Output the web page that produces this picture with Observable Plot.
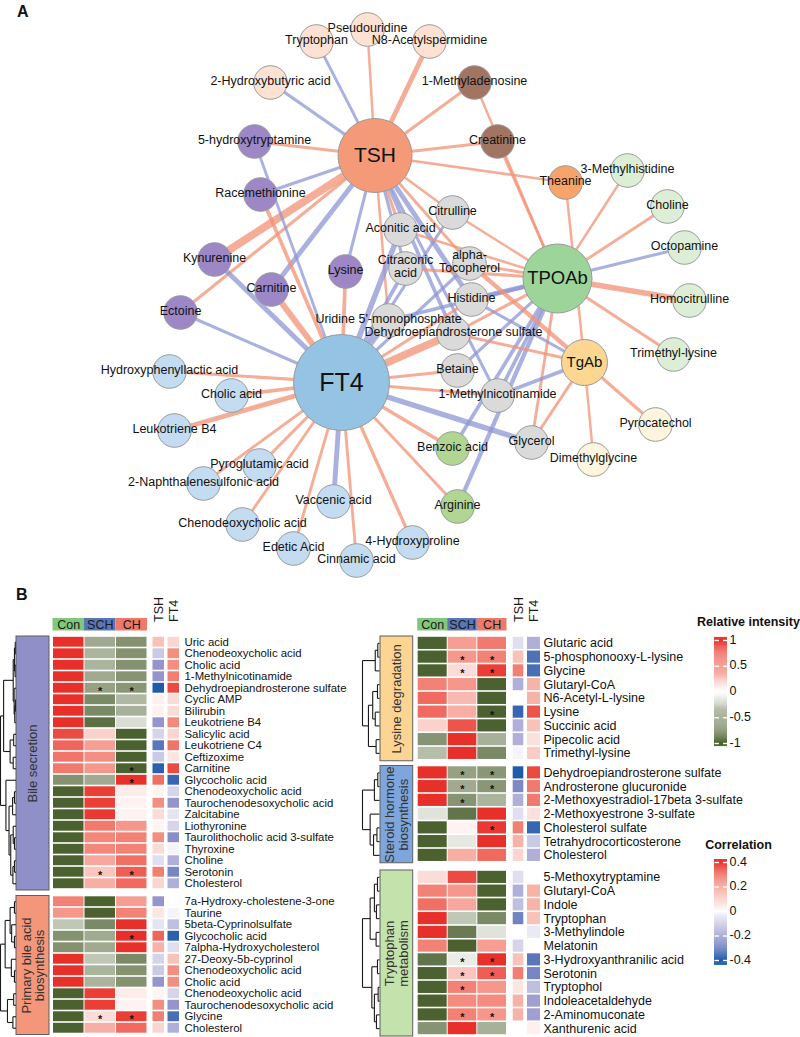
<!DOCTYPE html>
<html><head><meta charset="utf-8">
<script src="https://cdn.jsdelivr.net/npm/d3@7"></script>
<script src="https://cdn.jsdelivr.net/npm/@observablehq/plot@0.6"></script>
<style>
body{margin:0;background:#fff;font-family:"Liberation Sans",Arial,sans-serif;}
#wrap{position:relative;width:800px;height:1037px;overflow:hidden;background:#fff;}
.panel{position:absolute;font-weight:bold;font-size:16px;color:#111;}
</style></head><body><div id="wrap"></div>
<script>
// ===================== DATA: Panel A (network) =====================
// [name, module group, layout x, layout y]
const networkNodes = [
  ["TSH","TSH",374.5,155], ["FT4","FT4",341,382], ["TPOAb","TPOAb",557,278], ["TgAb","TgAb",584,362],
  ["Tryptophan","TSH only",316,41], ["Pseudouridine","TSH only",367,29], ["N8-Acetylspermidine","TSH only",429,41],
  ["2-Hydroxybutyric acid","TSH only",270,82],
  ["1-Methyladenosine","TSH & TPOAb",474,82], ["Creatinine","TSH & TPOAb",497,141],
  ["Theanine","TSH & TgAb",565,182],
  ["5-hydroxytryptamine","TSH & FT4",254,141], ["Racemethionine","TSH & FT4",260,194], ["Kynurenine","TSH & FT4",214,259],
  ["Carnitine","TSH & FT4",271,289], ["Ectoine","TSH & FT4",180,312], ["Lysine","TSH & FT4",345,271],
  ["Citrulline","Shared",452,212], ["Aconitic acid","Shared",400,229], ["Citraconic acid","Shared",405,268],
  ["alpha-Tocopherol","Shared",469,263], ["Histidine","Shared",471,299], ["Uridine 5'-monophosphate","Shared",388,320],
  ["Dehydroepiandrosterone sulfate","Shared",453,333], ["Betaine","Shared",457,370], ["1-Methylnicotinamide","Shared",497,395],
  ["Glycerol","Shared",531,442],
  ["Benzoic acid","FT4 & TPOAb",452,448], ["Arginine","FT4 & TPOAb",457,506],
  ["3-Methylhistidine","TPOAb only",627,170], ["Choline","TPOAb only",667,206], ["Octopamine","TPOAb only",684,247],
  ["Homocitrulline","TPOAb only",689,300], ["Trimethyl-lysine","TPOAb only",673,354],
  ["Pyrocatechol","TgAb only",655,424], ["Dimethylglycine","TgAb only",593,459],
  ["Hydroxyphenyllactic acid","FT4 only",169,371], ["Cholic acid","FT4 only",231,395], ["Leukotriene B4","FT4 only",174,430],
  ["Pyroglutamic acid","FT4 only",259,465], ["2-Naphthalenesulfonic acid","FT4 only",203,483], ["Vaccenic acid","FT4 only",333,501],
  ["Chenodeoxycholic acid","FT4 only",242,524], ["Edetic Acid","FT4 only",293,548], ["Cinnamic acid","FT4 only",356,560],
  ["4-Hydroxyproline","FT4 only",412,542]
];
// [metabolite, hormone/antibody, correlation]
const networkEdges = [
  ["Tryptophan","TSH",-0.28], ["Pseudouridine","TSH",0.25], ["N8-Acetylspermidine","TSH",0.45], ["2-Hydroxybutyric acid","TSH",-0.32],
  ["1-Methyladenosine","TSH",0.3], ["Creatinine","TSH",0.28], ["5-hydroxytryptamine","TSH",0.28], ["Racemethionine","TSH",-0.32],
  ["Theanine","TSH",0.25], ["Kynurenine","TSH",0.7], ["Ectoine","TSH",0.3], ["Carnitine","TSH",-0.45], ["Lysine","TSH",-0.3],
  ["Citrulline","TSH",0.25], ["Aconitic acid","TSH",0.3], ["Citraconic acid","TSH",-0.3], ["alpha-Tocopherol","TSH",0.28],
  ["Histidine","TSH",-0.45], ["Uridine 5'-monophosphate","TSH",0.25], ["Dehydroepiandrosterone sulfate","TSH",-0.35],
  ["1-Methylnicotinamide","TSH",-0.3],
  ["Hydroxyphenyllactic acid","FT4",0.3], ["Cholic acid","FT4",0.35], ["Leukotriene B4","FT4",0.45], ["Pyroglutamic acid","FT4",0.3],
  ["2-Naphthalenesulfonic acid","FT4",0.28], ["Chenodeoxycholic acid","FT4",0.28], ["Edetic Acid","FT4",0.28], ["Cinnamic acid","FT4",0.28],
  ["Vaccenic acid","FT4",-0.45], ["4-Hydroxyproline","FT4",0.32], ["5-hydroxytryptamine","FT4",-0.28], ["Racemethionine","FT4",0.35],
  ["Kynurenine","FT4",-0.45], ["Carnitine","FT4",0.55], ["Ectoine","FT4",-0.3], ["Lysine","FT4",0.35],
  ["Aconitic acid","FT4",-0.5], ["Citraconic acid","FT4",-0.35], ["Citrulline","FT4",-0.3], ["alpha-Tocopherol","FT4",-0.3],
  ["Uridine 5'-monophosphate","FT4",-0.45], ["Dehydroepiandrosterone sulfate","FT4",0.7], ["Betaine","FT4",0.3],
  ["1-Methylnicotinamide","FT4",0.28], ["Glycerol","FT4",-0.5], ["Benzoic acid","FT4",0.32], ["Arginine","FT4",0.28], ["Histidine","FT4",0.3],
  ["3-Methylhistidine","TPOAb",0.25], ["Choline","TPOAb",0.28], ["Octopamine","TPOAb",-0.3], ["Homocitrulline","TPOAb",0.5],
  ["Trimethyl-lysine","TPOAb",0.3], ["1-Methyladenosine","TPOAb",0.25], ["Creatinine","TPOAb",0.25], ["Citrulline","TPOAb",0.25],
  ["Aconitic acid","TPOAb",0.25], ["Citraconic acid","TPOAb",0.3], ["alpha-Tocopherol","TPOAb",0.28], ["Histidine","TPOAb",-0.45],
  ["Uridine 5'-monophosphate","TPOAb",-0.35], ["Dehydroepiandrosterone sulfate","TPOAb",0.3], ["Betaine","TPOAb",-0.3],
  ["1-Methylnicotinamide","TPOAb",-0.35], ["Glycerol","TPOAb",0.28], ["Benzoic acid","TPOAb",-0.35], ["Arginine","TPOAb",-0.4],
  ["Theanine","TgAb",0.25], ["Pyrocatechol","TgAb",0.3], ["Dimethylglycine","TgAb",0.25], ["Glycerol","TgAb",0.3],
  ["1-Methylnicotinamide","TgAb",-0.35], ["alpha-Tocopherol","TgAb",0.4], ["Dehydroepiandrosterone sulfate","TgAb",0.28],
  ["Histidine","TgAb",-0.3]
];

// ===================== DATA: Panel B (heatmaps) =====================
const groupNames = ["Bile secretion", "Primary bile acid\nbiosynthesis", "Lysine degradation", "Steroid hormone\nbiosynthesis", "Tryptophan\nmetabolism"];
const sampleGroups = ["Con", "SCH", "CH"];
const hormones = ["TSH", "FT4"];
const intensityTicks = [1, 0.5, 0, -0.5, -1];
const correlationTicks = [0.4, 0.2, 0, -0.2, -0.4];
// [metabolite, Con, SCH, CH, r(TSH), r(FT4), significant groups]
const bileSecretion = [
  ["Uric acid", 1, -0.45, -0.62, 0.12, 0.08, ""],
  ["Chenodeoxycholic acid", 1, -0.4, -0.62, -0.1, 0.22, ""],
  ["Cholic acid", 1, -0.4, -0.62, -0.2, 0.22, ""],
  ["1-Methylnicotinamide", 1, -0.45, -0.6, -0.2, 0.25, ""],
  ["Dehydroepiandrosterone sulfate", 1, -0.5, -0.58, -0.4, 0.35, "SC"],
  ["Cyclic AMP", 1, -0.68, -0.38, 0.03, 0.07, ""],
  ["Bilirubin", 1, -0.68, -0.42, 0.03, 0.07, ""],
  ["Leukotriene B4", 1, -0.88, -0.18, -0.2, 0.23, ""],
  ["Salicylic acid", 0.85, 0.2, -1, -0.08, 0.08, ""],
  ["Leukotriene C4", 0.7, 0.42, -1, -0.3, 0.27, ""],
  ["Ceftizoxime", 0.62, 0.48, -1, -0.1, 0.05, ""],
  ["Carnitine", 0.6, 0.45, -1, -0.38, 0.35, "C"],
  ["Glycocholic acid", -0.62, -0.45, 1, 0.28, -0.36, "C"],
  ["Chenodeoxycholic acid", -1, 0.92, 0.08, 0.02, -0.08, ""],
  ["Taurochenodesoxycholic acid", -1, 0.92, 0.05, 0.22, -0.2, ""],
  ["Zalcitabine", -1, 0.95, 0.05, 0.07, -0.05, ""],
  ["Liothyronine", -1, 0.6, 0.45, 0.02, -0.08, ""],
  ["Taurolithocholic acid 3-sulfate", -1, 0.52, 0.55, 0.22, -0.22, ""],
  ["Thyroxine", -1, 0.52, 0.55, 0.07, -0.02, ""],
  ["Choline", -1, 0.38, 0.65, -0.06, -0.15, ""],
  ["Serotonin", -1, 0.25, 0.75, 0.25, -0.25, "SC"],
  ["Cholesterol", -1, 0.35, 0.68, 0.08, -0.15, ""]
];
const primaryBile = [
  ["7a-Hydroxy-cholestene-3-one", 0.55, -1, 0.42, -0.2, 0, ""],
  ["Taurine", 0.45, -1, 0.55, 0.05, -0.02, ""],
  ["5beta-Cyprinolsulfate", -0.3, -0.68, 1, -0.05, -0.12, ""],
  ["Glycocholic acid", -0.62, -0.45, 1, 0.3, -0.38, "C"],
  ["7alpha-Hydroxycholesterol", -0.62, -0.45, 1, 0.15, -0.06, ""],
  ["27-Deoxy-5b-cyprinol", 1, -0.3, -0.68, -0.08, 0.12, ""],
  ["Chenodeoxycholic acid", 1, -0.4, -0.62, -0.1, 0.22, ""],
  ["Cholic acid", 1, -0.4, -0.62, -0.2, 0.22, ""],
  ["Chenodeoxycholic acid", -1, 0.92, 0.08, 0.02, -0.08, ""],
  ["Taurochenodesoxycholic acid", -1, 0.92, 0.05, 0.22, -0.2, ""],
  ["Glycine", -1, 0.15, 0.92, 0.25, -0.33, "SC"],
  ["Cholesterol", -1, 0.35, 0.68, 0.08, -0.15, ""]
];
const lysineDegradation = [
  ["Glutaric acid", -1, 0.42, 0.6, -0.06, -0.15, ""],
  ["5-phosphonooxy-L-lysine", -1, 0.45, 0.55, 0.12, -0.32, "SC"],
  ["Glycine", -1, 0.15, 0.92, 0.25, -0.33, "SC"],
  ["Glutaryl-CoA", 0.55, 0.45, -1, -0.15, 0.15, ""],
  ["N6-Acetyl-L-lysine", 0.68, 0.3, -1, 0.0, 0.15, ""],
  ["Lysine", 0.68, 0.35, -1, -0.36, 0.33, "C"],
  ["Succinic acid", 0.2, 0.8, -1, -0.15, 0.12, ""],
  ["Pipecolic acid", -0.6, 1, -0.42, -0.15, 0.06, ""],
  ["Trimethyl-lysine", -0.35, 1, -0.68, -0.02, 0.1, ""]
];
const steroidHormone = [
  ["Dehydroepiandrosterone sulfate", 1, -0.5, -0.58, -0.4, 0.35, "SC"],
  ["Androsterone glucuronide", 1, -0.45, -0.58, -0.24, 0.26, "SC"],
  ["2-Methoxyestradiol-17beta 3-sulfate", 1, -0.6, -0.4, -0.15, 0.26, "S"],
  ["2-Methoxyestrone 3-sulfate", -0.15, -0.85, 1, -0.06, 0.06, ""],
  ["Cholesterol sulfate", -1, 0.05, 0.95, 0.25, -0.36, "C"],
  ["Tetrahydrocorticosterone", -1, -0.12, 1, 0.15, -0.1, ""],
  ["Cholesterol", -1, 0.35, 0.68, 0.08, -0.15, ""]
];
const tryptophanMetabolism = [
  ["5-Methoxytryptamine", 0.15, 0.85, -1, -0.06, 0, ""],
  ["Glutaryl-CoA", 0.55, 0.45, -1, -0.15, 0.15, ""],
  ["Indole", 0.65, 0.38, -1, -0.12, 0.15, ""],
  ["Tryptophan", 1, -0.3, -0.68, -0.26, 0.12, ""],
  ["3-Methylindole", 1, -0.8, -0.15, 0.0, -0.04, ""],
  ["Melatonin", 0.55, -1, 0.42, -0.08, 0, ""],
  ["3-Hydroxyanthranilic acid", -0.85, -0.1, 1, 0.12, -0.3, "SC"],
  ["Serotonin", -1, 0.25, 0.75, 0.25, -0.25, "SC"],
  ["Tryptophol", -1, 0.55, 0.45, 0.05, -0.12, "S"],
  ["Indoleacetaldehyde", -1, 0.5, 0.5, 0.15, -0.18, ""],
  ["2-Aminomuconate", -1, 0.55, 0.45, 0.15, -0.18, "SC"],
  ["Xanthurenic acid", -0.6, 1, -0.42, 0, 0.03, ""]
];
// dendrograms: [merge height (0 = root side, 1 = leaves), left, right]; leaves are row indices
const bileTree = [0, [0.2, [0.82, [0.9, [0.95, 0, 1], [0.94, 2, 3]], [0.88, 4, [0.92, [0.96, 5, 6], 7]]], [0.62, [0.85, 8, 9], [0.82, 10, 11]]],
                     [0.35, 12, [0.55, [0.78, [0.9, 13, 14], 15], [0.66, [0.82, 16, [0.9, 17, 18]], [0.8, [0.9, 19, 20], 21]]]]];
const primaryTree = [0, [0.3, [0.62, [0.9, 0, 1], [0.72, 2, [0.9, 3, 4]]], [0.7, 5, [0.9, 6, 7]]], [0.45, [0.85, 8, 9], [0.8, 10, 11]]];
const lysineTree = [0, [0.75, [0.9, 0, 1], 2], [0.35, [0.6, [0.88, 3, 4], [0.75, 5, 6]], [0.8, 7, 8]]];
const steroidTree = [0, [0.7, [0.9, 0, 1], 2], [0.45, 3, [0.65, [0.85, 4, 5], 6]]];
const tryptophanTree = [0, [0.45, [0.7, [0.88, 0, 1], [0.82, 2, 3]], [0.8, 4, 5]], [0.55, [0.88, 6, 7], [0.7, [0.92, 8, 9], [0.82, 10, 11]]]];

// ===================== STYLE / LAYOUT =====================
const FONT = '"Liberation Sans", Arial, Helvetica, sans-serif';
const groupColor = {
  "TSH": "#f59a78", "FT4": "#94c3e3", "TPOAb": "#9cd49a", "TgAb": "#fdd791",
  "TSH only": "#fde2d4", "TSH & TPOAb": "#a27563", "TSH & TgAb": "#f7a46b", "TSH & FT4": "#9d87c7",
  "Shared": "#dadada", "FT4 & TPOAb": "#b1d692", "TPOAb only": "#dcefd6", "TgAb only": "#fef5de", "FT4 only": "#c4dcf2",
  "positive": "#f29274", "negative": "#8d97d6"
};
const hubRadius = {TSH: 37, FT4: 48, TPOAb: 34.5, TgAb: 23};
const hubFont = {TSH: 21, FT4: 25, TPOAb: 18.5, TgAb: 15};
const metaboliteRadius = 16.8;
const labelText = {"Citraconic acid": "Citraconic\nacid", "alpha-Tocopherol": "alpha-\nTocopherol"};
const intensityColors = ["#4b6130", "#96a184", "#ffffff", "#f48b7e", "#e8302a"];
const correlationColors = ["#1f5aab", "#9594cc", "#ffffff", "#f4998b", "#e8302a"];
const headerColors = ["#80c87c", "#5a76b4", "#ef7968"];
const blockFill = ["#8f90c7", "#f4967a", "#fdd593", "#7ea5dc", "#c4e2ac"];

const sides = {
  left: {cols: [[53,83.5],[84.5,115],[116,146.5]], corr: [[152.5,164],[167.5,179]], labelX: 184, box: [16,49], dendro: [0,15.5], rowH: 11.5, font: 11.4},
  right: {cols: [[417.7,446.7],[447.7,476.3],[477.3,506]], corr: [[512.7,523.3],[527,540]], labelX: 543, box: [380,412.7], dendro: [362,379], rowH: 13.75, font: 12.5}
};
const blocks = [
  {side: "left", g: 0, rows: bileSecretion, tree: bileTree, top: 636},
  {side: "left", g: 1, rows: primaryBile, tree: primaryTree, top: 895.5},
  {side: "right", g: 2, rows: lysineDegradation, tree: lysineTree, top: 636},
  {side: "right", g: 3, rows: steroidHormone, tree: steroidTree, top: 765.5},
  {side: "right", g: 4, rows: tryptophanMetabolism, tree: tryptophanTree, top: 870}
];
const mid = ([a, b]) => (a + b) / 2;

function dendrogram(tree, top, rowH, x0, x1) {
  const segs = [];
  (function walk(node) {
    if (typeof node === "number") return {x: x1, y: top + (node + 0.5) * rowH};
    const [h, a, b] = node;
    const x = x0 + h * (x1 - x0);
    const pa = walk(a), pb = walk(b);
    segs.push({x1: x, y1: pa.y, x2: x, y2: pb.y});
    segs.push({x1: x, y1: pa.y, x2: pa.x, y2: pa.y});
    segs.push({x1: x, y1: pb.y, x2: pb.x, y2: pb.y});
    return {x, y: (pa.y + pb.y) / 2};
  })(tree);
  return segs;
}

const wrap = document.getElementById("wrap");
function place(node, top) { node.style.position = "absolute"; node.style.left = "0px"; node.style.top = top + "px"; wrap.appendChild(node); }
function letter(t, x, y) { const d = document.createElement("div"); d.className = "panel"; d.textContent = t; d.style.left = x + "px"; d.style.top = y + "px"; wrap.appendChild(d); }
const baseStyle = {background: "transparent", fontFamily: FONT, overflow: "visible"};

// ===================== PANEL A =====================
const nodes = networkNodes.map(([name, group, x, y]) => ({name, group, x, y, hub: name in hubRadius}));
const nodeBy = new Map(nodes.map(d => [d.name, d]));
const links = networkEdges.map(([a, b, r]) => ({s: nodeBy.get(a), t: nodeBy.get(b), r, sign: r > 0 ? "positive" : "negative"}));

const plotA = Plot.plot({
  width: 800, height: 580, margin: 0, style: baseStyle,
  x: {domain: [0, 800], range: [0, 800], axis: null},
  y: {domain: [0, 580], range: [0, 580], axis: null},
  r: {type: "linear", domain: [0, 100], range: [0, 100]},
  color: {domain: Object.keys(groupColor), range: Object.values(groupColor)},
  marks: [
    Plot.link(links, {x1: d => d.s.x, y1: d => d.s.y, x2: d => d.t.x, y2: d => d.t.y,
      stroke: "sign", strokeWidth: d => 12 * Math.abs(d.r) - 0.5, strokeOpacity: 0.75}),
    Plot.dot(nodes, {x: "x", y: "y", r: d => d.hub ? hubRadius[d.name] : metaboliteRadius,
      fill: "group", stroke: "#9a9a9a", strokeWidth: 1}),
    Plot.text(nodes.filter(d => !d.hub), {x: "x", y: "y", text: d => labelText[d.name] ?? d.name,
      fontSize: 12.5, dy: -2, fill: "#111", lineHeight: 1}),
    Plot.text(nodes.filter(d => d.hub), {x: "x", y: "y", text: "name", fontSize: d => hubFont[d.name], fill: "#111"})
  ]
});
place(plotA, 0);

// ===================== PANEL B =====================
const intCells = [], corCells = [], rowLabels = [], stars = [], boxes = [], dendroSegs = [], headers = [], hormoneLabels = [];
for (const b of blocks) {
  const s = sides[b.side];
  b.rows.forEach((row, i) => {
    const [name, con, sch, ch, tsh, ft4, sig] = row;
    const y1 = b.top + i * s.rowH, y2 = y1 + s.rowH, yc = (y1 + y2) / 2;
    [con, sch, ch].forEach((v, j) => intCells.push({x1: s.cols[j][0], x2: s.cols[j][1], y1, y2, v}));
    [tsh, ft4].forEach((v, j) => corCells.push({x1: s.corr[j][0], x2: s.corr[j][1], y1, y2, v}));
    rowLabels.push({x: s.labelX, y: yc, text: name, size: s.font});
    if (sig.includes("S")) stars.push({x: mid(s.cols[1]), y: yc});
    if (sig.includes("C")) stars.push({x: mid(s.cols[2]), y: yc});
  });
  const n = b.rows.length;
  boxes.push({x1: s.box[0], x2: s.box[1], y1: b.top, y2: b.top + n * s.rowH + 1, fill: blockFill[b.g], label: groupNames[b.g]});
  dendroSegs.push(...dendrogram(b.tree, b.top, s.rowH, s.dendro[0], s.dendro[1]));
}
for (const key of ["left", "right"]) {
  const s = sides[key];
  sampleGroups.forEach((g, j) => headers.push({x1: s.cols[j][0] - 0.5, x2: s.cols[j][1] + 0.5, y1: 618, y2: 630.5, text: g, fill: headerColors[j]}));
  hormones.forEach((h, j) => hormoneLabels.push({x: mid(s.corr[j]), y: 621.5, text: h}));
}

// legends
const legendX = [714, 727];
const intY = v => 691.5 - v * 51.5;
const corY = v => 911 - v * 122.5;
const intStripes = d3.range(-1.06, 1.06, 0.02).map(v => ({v: Math.max(-1, Math.min(1, v + 0.01)), y1: intY(v + 0.02), y2: intY(v)}));
const corStripes = d3.range(-0.44, 0.424, 0.008).map(v => ({v: Math.max(-0.4, Math.min(0.4, v + 0.004)), y1: corY(v + 0.008), y2: corY(v)}));
const tickDashes = (ticks, f) => ticks.flatMap(t => [{x1: 714, x2: 718.5, y: f(t)}, {x1: 722.5, x2: 727, y: f(t)}]);

const frame = {width: 800, height: 457, margin: 0, style: baseStyle,
  x: {domain: [0, 800], range: [0, 800], axis: null},
  y: {domain: [580, 1037], range: [0, 457], axis: null}};

const plotB1 = Plot.plot({
  ...frame,
  color: {type: "linear", domain: [-1, 1], interpolate: d3.piecewise(d3.interpolateRgb, intensityColors)},
  marks: [
    Plot.rect(intCells, {x1: "x1", x2: "x2", y1: "y1", y2: "y2", fill: "v", insetTop: 0.8, insetBottom: 0.8}),
    ...headers.map(h => Plot.rect([h], {x1: "x1", x2: "x2", y1: "y1", y2: "y2", fill: h.fill})),
    Plot.text(headers, {x: d => (d.x1 + d.x2) / 2, y: d => (d.y1 + d.y2) / 2, text: "text", fontSize: 12.5, fill: "#1a1a1a"}),
    Plot.text(hormoneLabels, {x: "x", y: "y", text: "text", rotate: -90, textAnchor: "start", fontSize: 12.5, fill: "#1a1a1a"}),
    ...boxes.map(bx => Plot.rect([bx], {x1: "x1", x2: "x2", y1: "y1", y2: "y2", fill: bx.fill, stroke: "#5f5f5f", strokeWidth: 1})),
    Plot.text(boxes, {x: d => (d.x1 + d.x2) / 2, y: d => (d.y1 + d.y2) / 2, text: "label", rotate: -90, fontSize: 13, lineHeight: 1.05, fill: "#333"}),
    Plot.link(dendroSegs, {x1: "x1", y1: "y1", x2: "x2", y2: "y2", stroke: "#1a1a1a", strokeWidth: 1.1}),
    Plot.text(rowLabels.filter(d => d.size < 12), {x: "x", y: "y", text: "text", textAnchor: "start", fontSize: 11.4, fill: "#111"}),
    Plot.text(rowLabels.filter(d => d.size >= 12), {x: "x", y: "y", text: "text", textAnchor: "start", fontSize: 12.5, fill: "#111"}),
    Plot.text(stars, {x: "x", y: "y", text: () => "*", fontSize: 11, dy: 3, fill: "#111", fontWeight: "bold"}),
    // intensity legend
    Plot.text(["Relative intensity"], {x: () => 748, y: () => 621, text: d => d, fontSize: 12.5, fontWeight: "bold", fill: "#111"}),
    Plot.rect(intStripes, {x1: () => legendX[0], x2: () => legendX[1], y1: "y1", y2: "y2", fill: "v"}),
    Plot.link(tickDashes(intensityTicks, intY), {x1: "x1", x2: "x2", y1: "y", y2: "y", stroke: "white", strokeWidth: 1.4}),
    Plot.text(intensityTicks, {x: () => 729, y: d => intY(d) - 1, text: d => String(d), textAnchor: "start", fontSize: 12.5, fill: "#111"})
  ]
});
place(plotB1, 580);

const plotB2 = Plot.plot({
  ...frame,
  color: {type: "linear", domain: [-0.4, 0.4], interpolate: d3.piecewise(d3.interpolateRgb, correlationColors)},
  marks: [
    Plot.rect(corCells, {x1: "x1", x2: "x2", y1: "y1", y2: "y2", fill: "v", insetTop: 0.8, insetBottom: 0.8}),
    Plot.text(["Correlation"], {x: () => 738, y: () => 844, text: d => d, fontSize: 12.5, fontWeight: "bold", fill: "#111"}),
    Plot.rect(corStripes, {x1: () => legendX[0], x2: () => legendX[1], y1: "y1", y2: "y2", fill: "v"}),
    Plot.link(tickDashes(correlationTicks, corY), {x1: "x1", x2: "x2", y1: "y", y2: "y", stroke: "white", strokeWidth: 1.4}),
    Plot.text(correlationTicks, {x: () => 729, y: d => corY(d) - 1, text: d => String(d), textAnchor: "start", fontSize: 12.5, fill: "#111"})
  ]
});
place(plotB2, 580);

letter("A", 17, 3);
letter("B", 16, 586);
</script></body></html>
